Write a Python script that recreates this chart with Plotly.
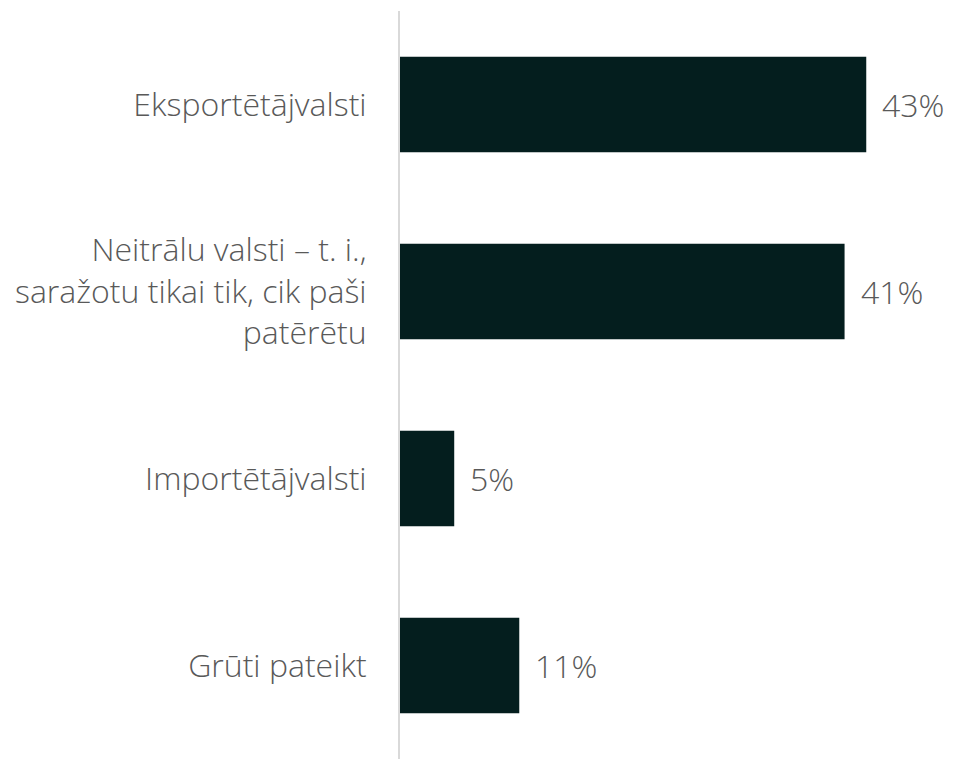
import plotly.graph_objects as go

categories = [
    "Eksportētājvalsti",
    "Neitrālu valsti – t. i.,<br>saražotu tikai tik, cik paši<br>patērētu",
    "Importētājvalsti",
    "Grūti pateikt",
]
values = [43, 41, 5, 11]
labels = ["43%", "41%", "5%", "11%"]

bar_color = "#041e1e"
text_color = "#595959"
font_family = "'Open Sans', Lato, sans-serif"
font_size = 32

fig = go.Figure()
fig.add_trace(go.Bar(
    x=values,
    y=categories,
    orientation="h",
    marker=dict(color=bar_color, line=dict(width=0)),
    hoverinfo="skip",
))

for v, c, t in zip(values, categories, labels):
    fig.add_annotation(
        x=v, y=c, text=t, showarrow=False,
        xanchor="left", yanchor="middle", xshift=14,
        font=dict(family=font_family, size=font_size, color=text_color, weight=300),
    )

fig.update_layout(
    width=945, height=751,
    margin=dict(l=392, r=0, t=3, b=0),
    paper_bgcolor="white", plot_bgcolor="white",
    showlegend=False,
    bargap=0.49,
    font=dict(family=font_family, size=font_size, color=text_color, weight=300),
)
fig.update_xaxes(range=[0, 51], visible=False, showgrid=False, zeroline=False)
fig.update_yaxes(
    categoryorder="array", categoryarray=categories[::-1],
    showgrid=False, zeroline=False,
    showline=True, linecolor="#d9d9d9", linewidth=2,
    ticks="", ticklabelstandoff=25,
    tickfont=dict(family=font_family, size=font_size, color=text_color, weight=300),
)

fig.write_html("out.html")
